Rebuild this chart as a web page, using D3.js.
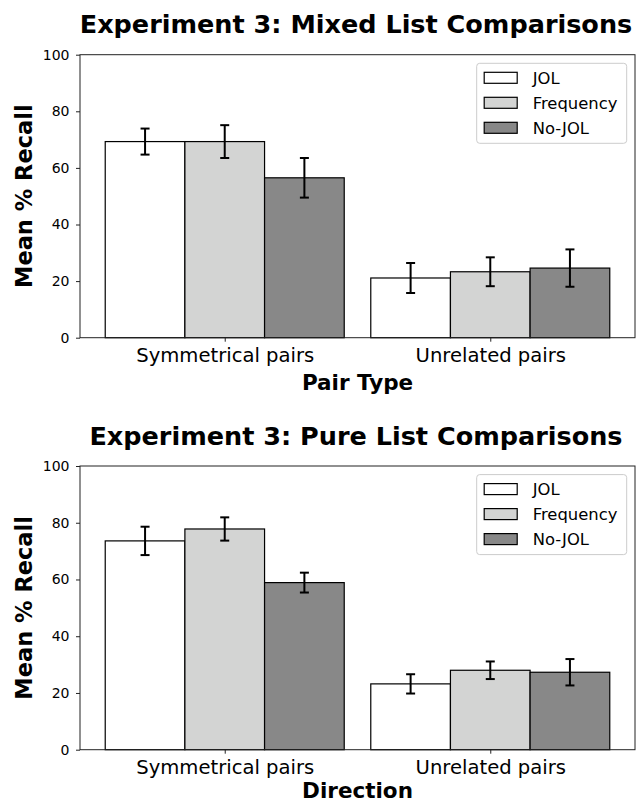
<!DOCTYPE html>
<html>
<head>
<meta charset="utf-8">
<script src="https://cdn.jsdelivr.net/npm/d3@7/dist/d3.min.js"></script>
<style>
  html, body { margin: 0; padding: 0; background: #fff; }
  svg { display: block; font-family: "DejaVu Sans", sans-serif; }
</style>
</head>
<body>
<svg id="chart" width="636" height="805"></svg>
<script>
// ---- data ----
const categories = ["Symmetrical pairs", "Unrelated pairs"];
const seriesNames = ["JOL", "Frequency", "No-JOL"];
const seriesColors = ["#ffffff", "#d3d4d3", "#888888"];
const yTicks = [0, 20, 40, 60, 80, 100];

const mixedJOL = [69.3, 21.1];
const mixedFreq = [69.3, 23.3];
const mixedNoJOL = [56.5, 24.6];
const mixedJOLErr = [4.6, 5.3];
const mixedFreqErr = [5.8, 5.1];
const mixedNoJOLErr = [7.0, 6.6];

const pureJOL = [73.6, 23.2];
const pureFreq = [77.8, 28.0];
const pureNoJOL = [58.9, 27.3];
const pureJOLErr = [5.0, 3.4];
const pureFreqErr = [4.1, 3.1];
const pureNoJOLErr = [3.5, 4.65];

const titles = ["Experiment 3: Mixed List Comparisons", "Experiment 3: Pure List Comparisons"];
const xLabels = ["Pair Type", "Direction"];
const yLabel = "Mean % Recall";

// ---- layout ----
const svg = d3.select("#chart");
const left = 80, right = 635;
const panels = [
  { top: 54.7, bottom: 337.7, means: [mixedJOL, mixedFreq, mixedNoJOL], errs: [mixedJOLErr, mixedFreqErr, mixedNoJOLErr], titleY: 33, xlabY: 389.5 },
  { top: 466, bottom: 749.7, means: [pureJOL, pureFreq, pureNoJOL], errs: [pureJOLErr, pureFreqErr, pureNoJOLErr], titleY: 445, xlabY: 798 }
];
const barW = 0.3;
const x = d3.scaleLinear().domain([-0.545, 1.545]).range([left, right]);

panels.forEach((p, pi) => {
  const y = d3.scaleLinear().domain([0, 100]).range([p.bottom, p.top]);
  const g = svg.append("g");

  // bars
  seriesNames.forEach((s, si) => {
    const off = (si - 1) * barW;
    g.selectAll(null).data(p.means[si]).enter().append("rect")
      .attr("x", (d, i) => x(i + off - barW / 2))
      .attr("width", (d, i) => x(i + off + barW / 2) - x(i + off - barW / 2))
      .attr("y", d => y(d))
      .attr("height", d => y(0) - y(d))
      .attr("fill", seriesColors[si])
      .attr("stroke", "#000")
      .attr("stroke-width", 1.2);
  });

  // error bars
  seriesNames.forEach((s, si) => {
    const off = (si - 1) * barW;
    const data = p.means[si].map((m, i) => ({ i, m, e: p.errs[si][i] }));
    const eg = g.selectAll(null).data(data).enter().append("g")
      .attr("stroke", "#000").attr("stroke-width", 2);
    eg.append("line")
      .attr("x1", d => x(d.i + off)).attr("x2", d => x(d.i + off))
      .attr("y1", d => y(d.m - d.e)).attr("y2", d => y(d.m + d.e));
    eg.append("line")
      .attr("x1", d => x(d.i + off) - 4.5).attr("x2", d => x(d.i + off) + 4.5)
      .attr("y1", d => y(d.m + d.e)).attr("y2", d => y(d.m + d.e));
    eg.append("line")
      .attr("x1", d => x(d.i + off) - 4.5).attr("x2", d => x(d.i + off) + 4.5)
      .attr("y1", d => y(d.m - d.e)).attr("y2", d => y(d.m - d.e));
  });

  // frame
  g.append("rect")
    .attr("x", left).attr("y", p.top)
    .attr("width", right - left).attr("height", p.bottom - p.top)
    .attr("fill", "none").attr("stroke", "#222").attr("stroke-width", 1);

  // y axis
  const ya = g.append("g").attr("transform", `translate(${left},0)`)
    .call(d3.axisLeft(y).tickValues(yTicks).tickSize(4).tickPadding(6.5).tickFormat(d3.format("d")));
  ya.select(".domain").remove();
  ya.selectAll("text").attr("font-size", 14).attr("font-family", "DejaVu Sans").attr("fill", "#000");
  ya.selectAll("line").attr("stroke", "#222");

  // x axis
  const xa = g.append("g").attr("transform", `translate(0,${p.bottom})`)
    .call(d3.axisBottom(x).tickValues([0, 1]).tickSize(4).tickPadding(6).tickFormat(i => categories[i]));
  xa.select(".domain").remove();
  xa.selectAll("text").attr("font-size", 19.6).attr("font-family", "DejaVu Sans").attr("fill", "#000");
  xa.selectAll("line").attr("stroke", "#222");

  // title
  svg.append("text")
    .attr("x", (left + right) / 2 - 1.5).attr("y", p.titleY)
    .attr("text-anchor", "middle").attr("font-size", 25.5).attr("font-weight", "bold")
    .text(titles[pi]);

  // x label
  svg.append("text")
    .attr("x", (left + right) / 2).attr("y", p.xlabY)
    .attr("text-anchor", "middle").attr("font-size", 21.5).attr("font-weight", "bold")
    .text(xLabels[pi]);

  // y label
  svg.append("text")
    .attr("transform", `translate(32,${(p.top + p.bottom) / 2}) rotate(-90)`)
    .attr("text-anchor", "middle").attr("font-size", 22.5).attr("font-weight", "bold")
    .text(yLabel);

  // legend
  const lg = svg.append("g").attr("transform", `translate(476.7,${p.top + 8.6})`);
  lg.append("rect").attr("width", 150).attr("height", 80).attr("rx", 3)
    .attr("fill", "#fff").attr("fill-opacity", 0.8).attr("stroke", "#cccccc").attr("stroke-width", 1);
  seriesNames.forEach((s, si) => {
    const cy = 14.5 + 25 * si;
    lg.append("rect").attr("x", 7.5).attr("y", cy - 5.5).attr("width", 33).attr("height", 11)
      .attr("fill", seriesColors[si]).attr("stroke", "#000").attr("stroke-width", 1.2);
    lg.append("text").attr("x", 56).attr("y", cy).attr("dy", "0.36em")
      .attr("font-size", 16.4).text(s);
  });
});
</script>
</body>
</html>
